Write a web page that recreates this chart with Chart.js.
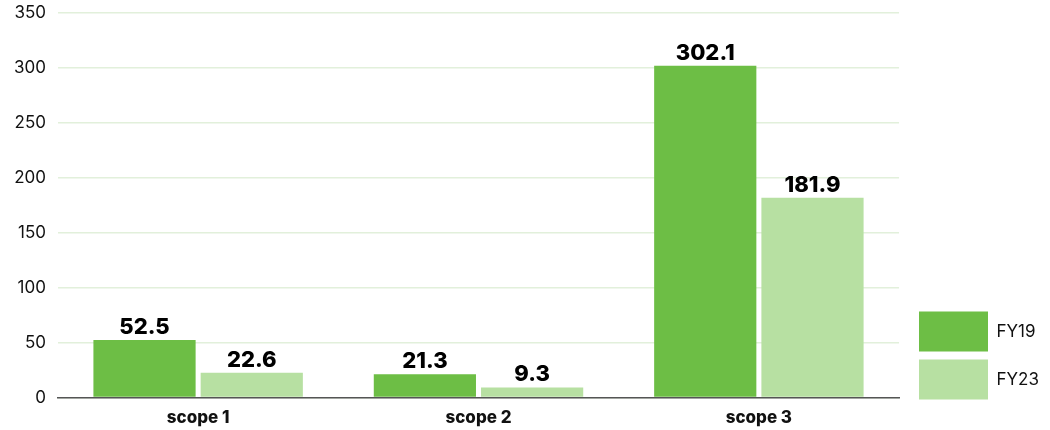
<!DOCTYPE html>
<html>
<head>
<meta charset="utf-8">
<script src="https://cdn.jsdelivr.net/npm/chart.js@4"></script>
<style>
  html, body { margin: 0; padding: 0; background: #fff; overflow: hidden; }
  #wrap { width: 1050px; height: 439px; margin-top: -9px; }
</style>
</head>
<body>
<div id="wrap"><canvas id="chart"></canvas></div>
<script>
const categories = ['scope 1', 'scope 2', 'scope 3'];
const fy19 = [52.5, 21.3, 302.1];
const fy23 = [22.6, 9.3, 181.9];
const yTicks = [0, 50, 100, 150, 200, 250, 300, 350];

// draws the value above each bar
const valueLabels = {
  id: 'valueLabels',
  afterDatasetsDraw(chart) {
    const ctx = chart.ctx;
    ctx.save();
    ctx.font = '800 22px Inter, "Open Sans", sans-serif';
    ctx.fillStyle = '#000';
    ctx.textAlign = 'center';
    ctx.textBaseline = 'alphabetic';
    chart.data.datasets.forEach((ds, i) => {
      chart.getDatasetMeta(i).data.forEach((bar, j) => {
        ctx.fillText(ds.data[j].toFixed(1), bar.x, bar.y - 6);
      });
    });
    ctx.restore();
  }
};

// keep the legend boxes ending at the x axis, not the canvas bottom
const legendShift = {
  id: 'legendShift',
  afterLayout(chart) {
    const lg = chart.legend;
    const dy = lg.bottom - (chart.chartArea.bottom + 10);
    const dx = 921 - 10 - lg.left;
    lg.top -= dy;
    lg.bottom -= dy;
    lg.left += dx;
    lg.right += dx;
  }
};

new Chart(document.getElementById('chart'), {
  type: 'bar',
  data: {
    labels: categories,
    datasets: [
      { label: 'FY19', data: fy19, backgroundColor: '#6dbe45' },
      { label: 'FY23', data: fy23, backgroundColor: '#b7e0a2' }
    ]
  },
  options: {
    responsive: true,
    maintainAspectRatio: false,
    animation: false,
    categoryPercentage: 0.765,
    barPercentage: 0.953,
    layout: { padding: { top: 0, right: 13, left: 2, bottom: 0 } },
    plugins: {
      tooltip: { enabled: false },
      legend: {
        position: 'right',
        align: 'end',
        labels: {
          boxWidth: 69,
          boxHeight: 40,
          padding: 8,
          color: '#111',
          font: { family: 'Inter, sans-serif', size: 17 }
        }
      }
    },
    scales: {
      x: {
        grid: { display: false },
        border: { color: '#555', width: 1.5 },
        ticks: {
          color: '#111',
          padding: 2,
          font: { family: 'Inter, sans-serif', size: 17, weight: '800' }
        }
      },
      y: {
        min: 0,
        max: 350,
        afterBuildTicks: axis => { axis.ticks = yTicks.map(v => ({ value: v })); },
        grid: { color: '#e2f0db', lineWidth: 1.5, drawTicks: false },
        border: { display: false },
        ticks: {
          color: '#111',
          padding: 12,
          font: { family: 'Inter, sans-serif', size: 17 }
        }
      }
    }
  },
  plugins: [valueLabels, legendShift]
});
</script>
</body>
</html>
